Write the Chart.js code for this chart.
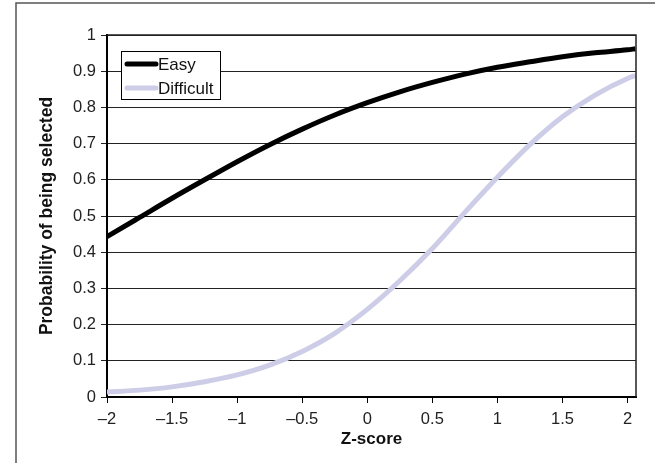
<!DOCTYPE html>
<html>
<head>
<meta charset="utf-8">
<script src="https://cdn.jsdelivr.net/npm/chart.js@4/dist/chart.umd.min.js"></script>
<style>
  html, body { margin: 0; padding: 0; background: #fff; }
  #wrap { width: 655px; height: 463px; }
</style>
</head>
<body>
<div id="wrap"><canvas id="myChart" width="655" height="463"></canvas></div>
<script>
// z-scores
var zScores = [-2, -1.75, -1.5, -1.25, -1, -0.75, -0.5, -0.25, 0, 0.25, 0.5, 0.75, 1, 1.25, 1.5, 1.75, 2, 2.06];
// probability of being selected
var easyValues = [0.443, 0.496, 0.549, 0.600, 0.650, 0.697, 0.740, 0.779, 0.813, 0.843, 0.869, 0.892, 0.911, 0.926, 0.940, 0.951, 0.959, 0.962];
var difficultValues = [0.014, 0.019, 0.028, 0.042, 0.061, 0.088, 0.126, 0.176, 0.242, 0.321, 0.410, 0.510, 0.607, 0.697, 0.774, 0.834, 0.880, 0.888];
var xTicks = [-2, -1.5, -1, -0.5, 0, 0.5, 1, 1.5, 2];
var seriesNames = ["Easy", "Difficult"];
var seriesColors = ["#000000", "#cdcde8"];

var fontFamily = "'Liberation Sans', Arial, sans-serif";

function toPoints(values) {
  return zScores.map(function (z, i) { return { x: z, y: values[i] }; });
}

function fmtNum(v) {
  var s = String(Number(v.toFixed(2)));
  return v < 0 ? "\u2013" + s.slice(1) : s;
}

// frame, outer border and the inside legend
var decorations = {
  id: "decorations",
  beforeDraw: function (chart) {
    var ctx = chart.ctx;
    ctx.save();
    ctx.strokeStyle = "#555";
    ctx.lineWidth = 1.5;
    ctx.beginPath();
    ctx.moveTo(16, 463);
    ctx.lineTo(16, 3);
    ctx.lineTo(655, 3);
    ctx.stroke();
    ctx.restore();
  },
  afterDatasetsDraw: function (chart) {
    var ctx = chart.ctx;
    var a = chart.chartArea;
    ctx.save();
    ctx.strokeStyle = "#222";
    ctx.lineWidth = 1.5;
    ctx.beginPath();
    ctx.moveTo(a.left, a.top);
    ctx.lineTo(a.right, a.top);
    ctx.lineTo(a.right, a.bottom);
    ctx.stroke();

    // legend
    var bx = 121, by = 51, bw = 99, bh = 48;
    ctx.fillStyle = "#fff";
    ctx.fillRect(bx, by, bw, bh);
    ctx.strokeStyle = "#000";
    ctx.lineWidth = 1;
    ctx.strokeRect(bx + 0.5, by + 0.5, bw, bh);
    ctx.font = "17px " + fontFamily;
    ctx.textBaseline = "middle";
    chart.data.datasets.forEach(function (ds, i) {
      var y = by + 13 + i * 24;
      ctx.strokeStyle = ds.borderColor;
      ctx.lineWidth = 5;
      ctx.lineCap = "round";
      ctx.beginPath();
      ctx.moveTo(bx + 6, y);
      ctx.lineTo(bx + 35, y);
      ctx.stroke();
      ctx.fillStyle = "#111";
      ctx.fillText(ds.label, bx + 37, y + 1);
    });
    ctx.restore();
  }
};

function renderChart() {
  var ctx = document.getElementById("myChart").getContext("2d");
  var myChart = new Chart(ctx, {
    type: "line",
    data: {
      datasets: [{
        label: seriesNames[0],
        data: toPoints(easyValues),
        borderColor: seriesColors[0],
        borderWidth: 5,
        pointRadius: 0,
        cubicInterpolationMode: "monotone"
      }, {
        label: seriesNames[1],
        data: toPoints(difficultValues),
        borderColor: seriesColors[1],
        borderWidth: 5,
        pointRadius: 0,
        cubicInterpolationMode: "monotone"
      }]
    },
    options: {
      responsive: false,
      animation: false,
      layout: { padding: { left: 0, top: 35, right: 19, bottom: 0 } },
      plugins: { legend: { display: false }, tooltip: { enabled: false } },
      scales: {
        x: {
          type: "linear",
          min: -2,
          max: 2.065,
          afterBuildTicks: function (scale) {
            scale.ticks = xTicks.map(function (v) { return { value: v }; });
          },
          afterFit: function (scale) { scale.height = 66; },
          grid: { drawOnChartArea: false, drawTicks: true, tickLength: 6, color: "#000", lineWidth: 1 },
          border: { display: true, width: 2, color: "#000" },
          ticks: {
            padding: 7,
            color: "#222",
            font: { family: fontFamily, size: 16.5 },
            maxRotation: 0,
            callback: function (v) { return fmtNum(v); }
          },
          title: {
            display: true,
            text: "Z-score",
            color: "#111",
            padding: { top: 0, bottom: 13 },
            font: { family: fontFamily, size: 17, weight: "bold" }
          }
        },
        y: {
          min: 0,
          max: 1,
          afterFit: function (scale) { scale.width = 107; },
          grid: { color: "#222", lineWidth: 1, tickLength: 6, drawTicks: true },
          border: { display: true, width: 2, color: "#000" },
          ticks: {
            stepSize: 0.1,
            padding: 5,
            color: "#222",
            font: { family: fontFamily, size: 16.5 },
            callback: function (v) { return fmtNum(v); }
          },
          title: {
            display: true,
            text: "Probability of being selected",
            color: "#111",
            padding: { top: 37, bottom: 0 },
            font: { family: fontFamily, size: 17.5, weight: "bold" }
          }
        }
      }
    },
    plugins: [decorations]
  });
}

window.onload = function () {
  renderChart();
};
</script>
</body>
</html>
